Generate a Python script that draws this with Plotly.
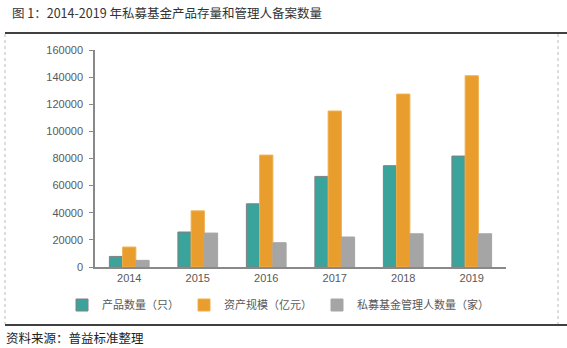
import plotly.graph_objects as go

years = ["2014", "2015", "2016", "2017", "2018", "2019"]
products = [7800, 25800, 46600, 66800, 74700, 81800]
assets = [14700, 41400, 82500, 115000, 127500, 141000]
managers = [4900, 25000, 17900, 22100, 24500, 24500]
names = ["产品数量（只）", "资产规模（亿元）", "私募基金管理人数量（家）"]
colors = ["#3AA39B", "#E89D2C", "#A5A5A5"]
y_ticks = [0, 20000, 40000, 60000, 80000, 100000, 120000, 140000, 160000]

W, H = 567, 348
L, R, T, B = 95, 61, 50, 81
pw = W - L - R
ph = H - T - B

def px(x):
    return (x - L) / pw

def py(y):
    return (H - B - y) / ph

FONT = "Liberation Sans, Noto Sans CJK SC, sans-serif"

fig = go.Figure()
lines = ["#808080", "#EFB04F", "#A5A5A5"]
for vals, name, c, lc in zip([products, assets, managers], names, colors, lines):
    fig.add_trace(go.Bar(x=years, y=vals, name=name, marker_color=c,
                         marker_line=dict(color=lc, width=1)))

fig.update_layout(
    width=W, height=H,
    margin=dict(l=L, r=R, t=T, b=B),
    paper_bgcolor="white", plot_bgcolor="white",
    barmode="group", bargap=0.42, bargroupgap=0,
    font=dict(family=FONT, size=11, color="#595959"),
    showlegend=True,
    legend=dict(orientation="h", x=px(62), xanchor="left", y=py(305), yanchor="middle",
                font=dict(size=11, color="#595959"), itemwidth=30,
                tracegroupgap=0, bgcolor="rgba(0,0,0,0)"),
    xaxis=dict(showline=True, linecolor="#898989", linewidth=1.5, ticks="",
               showgrid=False, tickfont=dict(size=11, color="#595959")),
    yaxis=dict(range=[0, 160000], tickvals=y_ticks, ticktext=[str(v) for v in y_ticks],
               showline=True, linecolor="#898989", linewidth=1.5, ticks="outside",
               ticklen=4, tickcolor="#898989", showgrid=False, zeroline=False,
               tickfont=dict(size=11, color="#595959"), ticklabelstandoff=4),
    shapes=[
        dict(type="line", xref="paper", yref="paper", x0=px(5), x1=px(567), y0=py(33), y1=py(33),
             line=dict(color="black", width=1.5)),
        dict(type="line", xref="paper", yref="paper", x0=px(5), x1=px(567), y0=py(325), y1=py(325),
             line=dict(color="black", width=1.5)),
        dict(type="line", xref="paper", yref="paper", x0=px(5), x1=px(5), y0=py(34), y1=py(324),
             line=dict(color="#BBBBBB", width=1, dash="dot")),
        dict(type="line", xref="paper", yref="paper", x0=px(558), x1=px(558), y0=py(34), y1=py(324),
             line=dict(color="#BBBBBB", width=1, dash="dot")),
    ],
    annotations=[
        dict(text="图 1：2014-2019 年私募基金产品存量和管理人备案数量", xref="paper", yref="paper",
             x=px(10), y=py(12), xanchor="left", yanchor="middle", showarrow=False,
             font=dict(family="Noto Sans CJK SC, sans-serif", size=12.5, color="#333333")),
        dict(text="资料来源：普益标准整理", xref="paper", yref="paper",
             x=px(4), y=py(337), xanchor="left", yanchor="middle", showarrow=False,
             font=dict(family="Noto Sans CJK SC, sans-serif", size=12.5, color="#222222")),
    ],
)

fig.write_html("out.html")
